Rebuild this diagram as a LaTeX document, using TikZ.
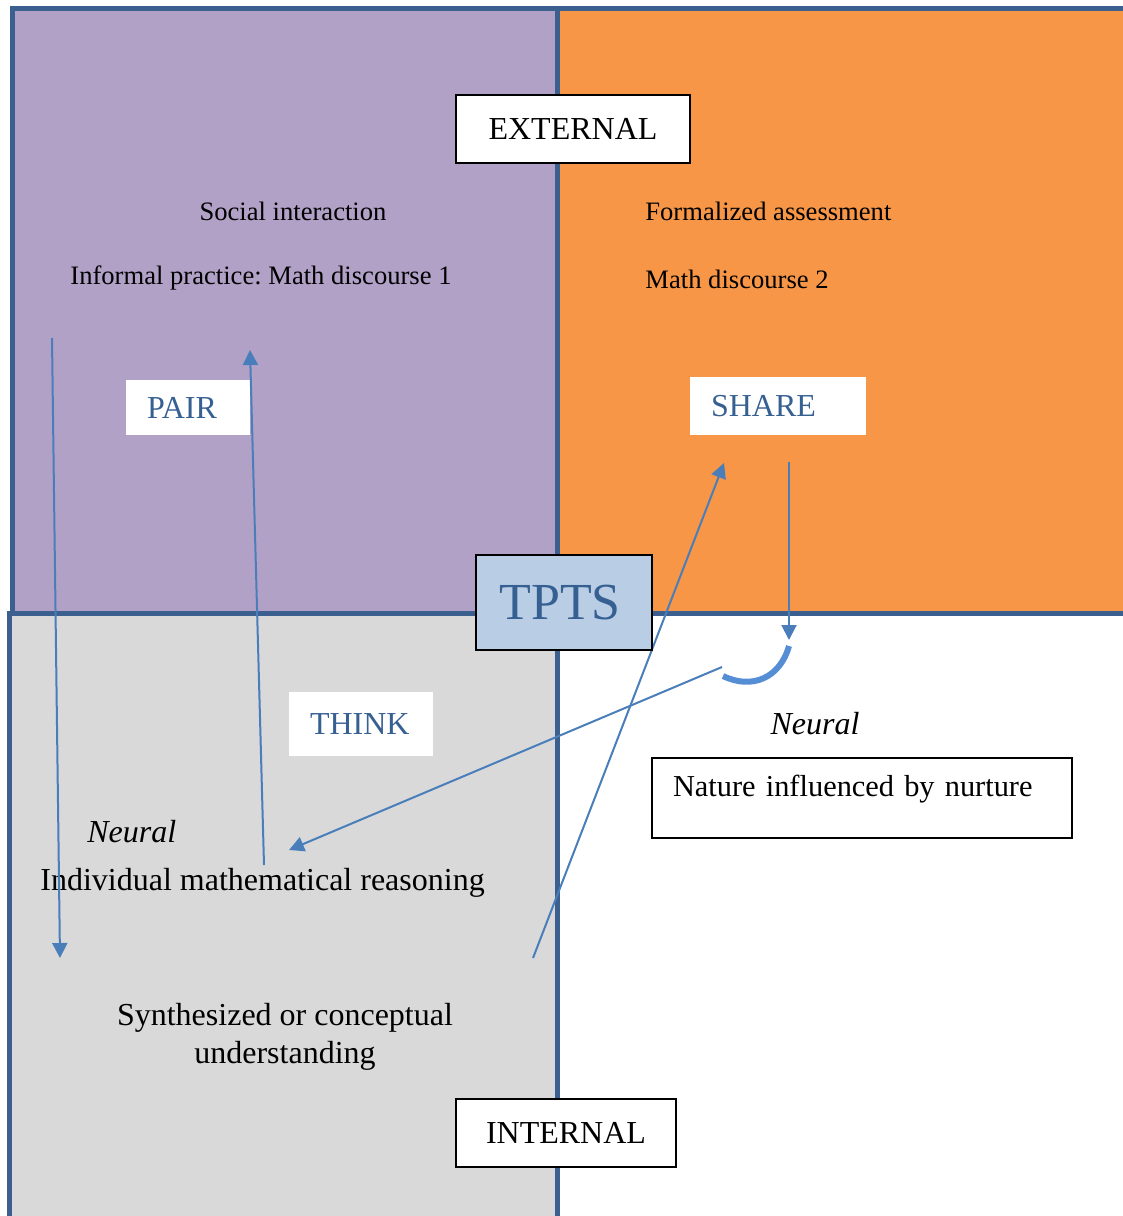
\documentclass[tikz,border=0pt]{standalone}
\usepackage{fontspec}
\setmainfont{Liberation Serif}
\usepackage{xcolor}
\usetikzlibrary{arrows.meta}

\definecolor{lilac}{HTML}{B2A1C7}
\definecolor{peach}{HTML}{F79646}
\definecolor{ash}{HTML}{D9D9D9}
\definecolor{rim}{HTML}{3B5F8F}
\definecolor{arrowblue}{HTML}{4A7EBB}
\definecolor{arcblue}{HTML}{558ED5}
\definecolor{tptsfill}{HTML}{B9CDE5}
\definecolor{tptstext}{HTML}{376092}

\newcommand{\bigtext}{\fontsize{16}{19}\selectfont}
\newcommand{\smalltext}{\fontsize{13.3}{16}\selectfont}
\frenchspacing

\tikzset{
  quad/.style={draw=rim,line width=2.5pt},
  tag/.style={draw=black,line width=1pt,fill=white,font=\bigtext,inner sep=0pt},
  phase/.style={fill=white,font=\bigtext,text=tptstext,align=left,inner xsep=10.5pt,inner ysep=0pt},
  flow/.style={color=arrowblue,line width=1pt,-{Triangle[length=7.5pt,width=7.5pt]}},
}

\begin{document}
\begin{tikzpicture}[x=0.5pt,y=-0.5pt]
   \useasboundingbox (0,0) rectangle (1123,1216);
   \clip (0,0) rectangle (1123,1216);

   % quadrants
   \path[quad,fill=lilac] (12,8.5) rectangle (557,613);
   \path[quad,fill=peach] (557,8.5) rectangle (1140,613);
   \path[quad,fill=ash] (9,613) rectangle (557,1230);

   % labels
   \node[font=\smalltext,name=social] at (293,211) {Social interaction};
   \node[font=\smalltext,anchor=west,inner sep=0pt,name=informal] at (70,278) {Informal practice: Math discourse 1};
   \node[font=\smalltext,anchor=west,inner sep=0pt,name=formal] at (645,211) {Formalized assessment};
   \node[font=\smalltext,anchor=west,inner sep=0pt,name=discourse] at (645,279) {Math discourse 2};
   \node[font=\bigtext\itshape,name=neuralR] at (815,724) {Neural};
   \node[font=\bigtext\itshape,anchor=west,inner sep=0pt,name=neuralL] at (87,832) {Neural};
   \node[font=\bigtext,anchor=west,inner sep=0pt,name=indiv] at (40,883) {Individual mathematical reasoning};
   \node[font=\bigtext,align=center,name=synth] at (285,1037) {Synthesized or conceptual\\understanding};

   % boxes
   \node[tag,minimum width=117pt,minimum height=34pt,name=ext] at (573,129) {EXTERNAL};
   \node[tag,minimum width=110pt,minimum height=34pt,name=int] at (566,1133) {INTERNAL};
   \node[phase,text width=41pt,minimum height=27.5pt,name=pair] at (188,407.5) {PAIR};
   \node[phase,text width=67pt,minimum height=29pt,name=share] at (778,406) {SHARE};
   \node[phase,text width=51pt,minimum height=32pt,name=think] at (361,724) {THINK};
   \node[draw=black,line width=1pt,anchor=north west,font=\fontsize{15.2}{18}\selectfont,text width=189pt,align=left,
         inner xsep=10.5pt,inner ysep=0pt,text height=19pt,text depth=21pt,name=nature] at (651,757) {Nature influenced by nurture};

   % arrow ends
   \coordinate (p1) at (52,338);
   \coordinate (p2) at (60,958);
   \coordinate (q1) at (264,865);
   \coordinate (q2) at (250,350);
   \coordinate (r1) at (533,958);
   \coordinate (r2) at (724,463);
   \coordinate (s1) at (789,462);
   \coordinate (s2) at (789,640);
   \coordinate (t1) at (789,646);
   \coordinate (t2) at (723,676);
   \coordinate (u1) at (722,667);
   \coordinate (u2) at (289,850);

   \path[flow]
      (p1) edge (p2)
      (q1) edge (q2)
      (r1) edge (r2)
      (s1) edge (s2)
      (u1) edge (u2);
   \draw[arcblue,line width=3pt] (t1) .. controls (780,678) and (752,690) .. (t2);

   \node[draw=black,line width=1pt,fill=tptsfill,text=tptstext,font=\fontsize{26}{30}\selectfont,
         minimum width=88pt,minimum height=47.5pt,inner sep=0pt,name=tpts] at (564,602.5) {\hspace*{-4pt}TPTS\raisebox{0pt}{}};
\end{tikzpicture}
\end{document}
